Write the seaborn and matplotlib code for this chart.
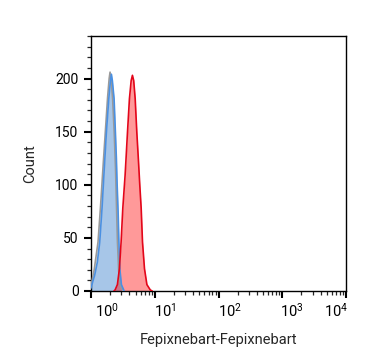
import numpy as np
import pandas as pd
import matplotlib
matplotlib.use("Agg")
import matplotlib.pyplot as plt
import matplotlib.ticker as mticker
from matplotlib.transforms import ScaledTranslation
import seaborn as sns

# ---- data (log10 of intensity, count) ----
gray_log = [-0.05, 0.0, 0.05, 0.11, 0.15, 0.19, 0.225, 0.26, 0.285, 0.299, 0.315, 0.34, 0.365, 0.385, 0.40, 0.415, 0.435, 0.46, 0.50]
gray_cnt = [0, 5, 20, 46, 80, 118, 150, 182, 200, 206, 200, 180, 148, 115, 80, 46, 18, 5, 0]

blue_log = [-0.03, 0.0, 0.058, 0.099, 0.137, 0.173, 0.205, 0.241, 0.279, 0.305, 0.320, 0.335, 0.362, 0.383, 0.398, 0.410, 0.425, 0.438, 0.452, 0.477, 0.52]
blue_cnt = [0, 3, 15, 27, 46, 78, 112, 149, 181, 198, 204, 198, 181, 149, 125, 100, 75, 46, 21, 6, 0]

red_log = [0.36, 0.378, 0.414, 0.446, 0.472, 0.499, 0.535, 0.55, 0.572, 0.603, 0.63, 0.650, 0.67, 0.693, 0.719, 0.745, 0.765, 0.787, 0.808, 0.839, 0.877, 0.93, 0.96]
red_cnt = [0, 1, 6, 21, 46, 78, 109, 125, 149, 181, 198, 203, 198, 181, 149, 122, 100, 78, 46, 21, 6, 1, 0]

x_ticks = [1, 10, 100, 1000, 10000]
x_tick_labels = ["$10^{0}$", "$10^{1}$", "$10^{2}$", "$10^{3}$", "$10^{4}$"]
y_ticks = [0, 50, 100, 150, 200]

x_label = "Fepixnebart-Fepixnebart"
y_label = "Count"

sns.set_style("ticks")
plt.rcParams['font.family'] = ['Roboto', 'DejaVu Sans']
plt.rcParams['mathtext.fontset'] = 'custom'
plt.rcParams['mathtext.rm'] = 'Roboto'
plt.rcParams['mathtext.it'] = 'Roboto'

fig = plt.figure(figsize=(3.67, 3.64), dpi=100)
ax = fig.add_axes([91/367, 73/364, 255/367, 255/364])

series = [
    ("gray", gray_log, gray_cnt, "#9a9a9a", "#c4c4c4", 0.6),
    ("blue", blue_log, blue_cnt, "#4a90e2", "#a3c5ea", 0.92),
    ("red", red_log, red_cnt, "#e3061a", "#ff0000", 0.4),
]
for name, lg, cnt, lc, fc, fa in series:
    df = pd.DataFrame({"x": 10 ** np.asarray(lg), "count": cnt})
    ax.fill_between(df["x"], df["count"], 0, color=fc, alpha=fa, linewidth=0, zorder=2)
for name, lg, cnt, lc, fc, fa in series:
    df = pd.DataFrame({"x": 10 ** np.asarray(lg), "count": cnt})
    sns.lineplot(data=df, x="x", y="count", ax=ax, color=lc, linewidth=1.2,
                 sort=False, estimator=None, zorder=3)

ax.set_xscale("log")
ax.set_xlim(1, 10000)
ax.set_ylim(0, 240)
ax.xaxis.set_major_locator(mticker.FixedLocator(x_ticks))
ax.xaxis.set_major_formatter(mticker.FixedFormatter(x_tick_labels))
ax.xaxis.set_minor_locator(mticker.LogLocator(base=10, subs=np.arange(2, 10), numticks=20))
ax.xaxis.set_minor_formatter(mticker.NullFormatter())
ax.set_yticks(y_ticks)
ax.yaxis.set_minor_locator(mticker.MultipleLocator(10))

for s in ax.spines.values():
    s.set_visible(True)
    s.set_linewidth(1.0)
    s.set_color("black")

ax.tick_params(axis="both", which="major", direction="out", length=5, width=1.5,
               colors="black")
ax.tick_params(axis="y", which="major", labelsize=10, pad=4)
ax.tick_params(axis="x", which="major", labelsize=10.5, pad=2.5)
ax.tick_params(axis="both", which="minor", direction="out", length=3, width=0.9)

# per-label alignment like the reference
offsets = [4, -1, -1, -2, 2]
has = ["left", "left", "left", "left", "right"]
for t, dx, ha in zip(ax.xaxis.get_major_ticks(), offsets, has):
    t.label1.set_horizontalalignment(ha)
    t.label1.set_transform(t.label1.get_transform() + ScaledTranslation(dx / 100, 0, fig.dpi_scale_trans))

ax.set_xlabel(x_label, fontsize=10.5)
ax.set_ylabel(y_label, fontsize=10.5)
ax.xaxis.set_label_coords(0.5, -0.165)
ax.yaxis.set_label_coords(-0.212, 0.5)

fig.savefig("out.png", dpi=100)
